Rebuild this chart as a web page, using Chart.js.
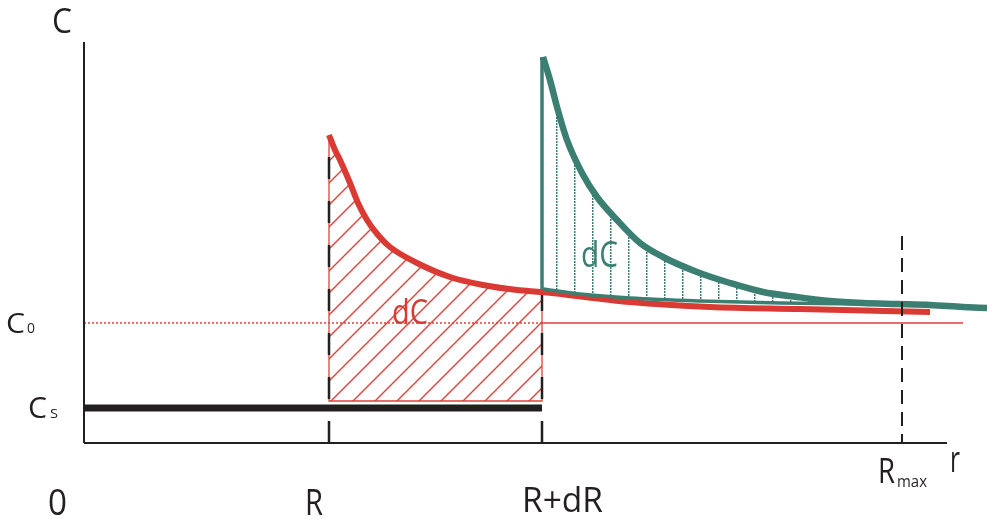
<!DOCTYPE html>
<html>
<head>
<meta charset="utf-8">
<script src="https://cdn.jsdelivr.net/npm/chart.js@4.4.1/dist/chart.umd.min.js"></script>
<style>
  html, body { margin: 0; padding: 0; background: #fff; }
  canvas { display: block; }
</style>
</head>
<body>
<canvas id="diagram" width="990" height="519"></canvas>
<script>
// marks on the r axis and C levels
const rMarks = [0, 245, 458, 818];
const rMarkLabels = ['0', 'R', 'R+dR', 'Rmax'];
const cLevels = [120, 35];
const cLevelLabels = ['C0', 'Cs'];
const rAxisEnd = 863;
const cAxisTop = 401;
const c0End = 879;
const hatchFloor = 42;
const rmaxDashTop = 207;

// profile after R (red)
const redR = [245, 251, 256, 266, 274, 283, 294, 306, 333, 366, 399, 433, 458, 546, 626, 716, 846];
const redC = [308, 293, 283, 260, 240, 223, 208, 196, 180, 166, 158, 153, 151, 141, 136, 134, 131];

// profile after R+dR (teal) and its lower edge
const tealR = [459, 466, 473, 483, 498, 513, 533, 556, 579, 613, 646, 679, 713, 746, 779, 813, 846, 879, 903];
const tealC = [386, 363, 336, 303, 270, 246, 223, 200, 186, 171, 160, 151, 146, 142, 140, 139, 138, 136, 135];
const tealBaseR = [459, 496, 546, 616, 696, 786];
const tealBaseC = [154, 149, 145, 142, 140, 139];

const RED = '#d93a34';
const RED_THIN = '#e0413b';
const TEAL = '#3a7f72';
const INK = '#231f20';
const FONT = '"Open Sans"';

const pts = (xs, ys) => xs.map((x, i) => ({ x, y: ys[i] }));

// hatch patterns
function redHatch() {
  const t = document.createElement('canvas');
  t.width = 22; t.height = 22;
  const g = t.getContext('2d');
  g.strokeStyle = RED_THIN;
  g.lineWidth = 1.4;
  [0, 22, 44].forEach(k => {
    g.beginPath(); g.moveTo(k - 24, 24); g.lineTo(k + 24, -24); g.stroke();
  });
  const p = g.createPattern(t, 'repeat');
  p.setTransform(new DOMMatrix().translate(6, 0));
  return p;
}
function tealHatch() {
  const t = document.createElement('canvas');
  t.width = 18; t.height = 3;
  const g = t.getContext('2d');
  g.fillStyle = TEAL;
  g.fillRect(0, 0, 1.5, 2);
  const p = g.createPattern(t, 'repeat');
  p.setTransform(new DOMMatrix().translate(16, 0));
  return p;
}

const redPts = pts(redR, redC);
const redRegion = redPts.filter(p => p.x <= rMarks[2])
  .concat([{ x: rMarks[2], y: hatchFloor }, { x: rMarks[1], y: hatchFloor }, redPts[0]]);
const tealPts = pts(tealR, tealC);
const tealBase = pts(tealBaseR, tealBaseC);
const tealRegion = tealPts.filter(p => p.x <= tealBaseR[tealBaseR.length - 1])
  .concat(tealBase.slice().reverse());

const line = (data, color, width, order, extra) => Object.assign({
  data, borderColor: color, borderWidth: width, order,
  pointRadius: 0, fill: false, tension: 0, clip: false, borderCapStyle: 'butt'
}, extra || {});

function fitText(ctx, text, left, base, size, width, color) {
  ctx.save();
  ctx.font = size + 'px ' + FONT;
  ctx.fillStyle = color;
  ctx.textAlign = 'left';
  ctx.textBaseline = 'alphabetic';
  const w = ctx.measureText(text).width;
  ctx.translate(left, base);
  ctx.scale(width / w, 1);
  ctx.fillText(text, 0, 0);
  ctx.restore();
}

const labelPlugin = {
  id: 'labels',
  afterDatasetsDraw(chart) {
    const ctx = chart.ctx;
    const px = v => chart.scales.x.getPixelForValue(v);
    const py = v => chart.scales.y.getPixelForValue(v);
    // axis names
    fitText(ctx, 'C', px(0) - 32, py(cAxisTop) - 9, 35, 20, INK);
    fitText(ctx, 'r', px(rAxisEnd) + 3, py(0) + 29, 36, 10, INK);
    // C levels
    fitText(ctx, cLevelLabels[0][0], 6, py(cLevels[0]) + 10, 28, 19, INK);
    fitText(ctx, cLevelLabels[0][1], 27, py(cLevels[0]) + 10, 15, 8, INK);
    fitText(ctx, cLevelLabels[1][0], 28, py(cLevels[1]) + 10, 29, 19, INK);
    fitText(ctx, cLevelLabels[1][1].toUpperCase(), 50, py(cLevels[1]) + 10, 12, 8, INK);
    // r marks
    fitText(ctx, rMarkLabels[0], px(rMarks[0]) - 36, py(0) + 72, 37, 19, INK);
    fitText(ctx, rMarkLabels[1], px(rMarks[1]) - 24, py(0) + 72, 37, 18, INK);
    fitText(ctx, rMarkLabels[2], px(rMarks[2]) - 20, py(0) + 69, 35, 81, INK);
    fitText(ctx, rMarkLabels[3][0], px(rMarks[3]) - 24, py(0) + 40, 35, 17, INK);
    fitText(ctx, rMarkLabels[3].slice(1), px(rMarks[3]) - 5, py(0) + 44, 16, 30, INK);
    // dC
    fitText(ctx, 'dC', 392, py(cLevels[0]) + 1, 34, 36, RED);
    fitText(ctx, 'dC', 581, 267, 36, 37, TEAL);
  }
};

new Chart(document.getElementById('diagram'), {
  type: 'line',
  data: {
    datasets: [
      line(redRegion, RED_THIN, 1.3, 20, { fill: 'shape', backgroundColor: redHatch() }),
      line(tealRegion, 'rgba(0,0,0,0)', 0, 19, { fill: 'shape', backgroundColor: tealHatch() }),
      line([{ x: 0, y: cLevels[0] }, { x: rMarks[2], y: cLevels[0] }], RED_THIN, 1.5, 18, { borderDash: [2, 2] }),
      line([{ x: rMarks[2], y: cLevels[0] }, { x: c0End, y: cLevels[0] }], RED_THIN, 1.4, 18),
      line([{ x: rMarks[1], y: 0 }, { x: rMarks[1], y: redC[0] }], INK, 2.5, 17, { borderDash: [22, 22] }),
      line([{ x: rMarks[2], y: 0 }, { x: rMarks[2], y: redC[redR.indexOf(rMarks[2])] }], INK, 2.5, 17, { borderDash: [22, 22] }),
      line([{ x: 0, y: 0 }, { x: 0, y: cAxisTop }], INK, 2, 16),
      line([{ x: 0, y: 0 }, { x: rAxisEnd, y: 0 }], INK, 2, 16),
      line([{ x: 0, y: cLevels[1] }, { x: rMarks[2], y: cLevels[1] }], INK, 7, 15),
      line(redPts, RED, 6, 14, { cubicInterpolationMode: 'monotone' }),
      line(tealBase, TEAL, 3.5, 13, { cubicInterpolationMode: 'monotone' }),
      line([{ x: tealR[0] - 1, y: tealBaseC[0] }, { x: tealR[0] - 1, y: tealC[0] }], TEAL, 3.5, 12),
      line(tealPts, TEAL, 6.5, 11, { cubicInterpolationMode: 'monotone' }),
      line([{ x: rMarks[3], y: rmaxDashTop }, { x: rMarks[3], y: 0 }], INK, 2, 10, { borderDash: [14, 8] })
    ]
  },
  options: {
    responsive: false,
    devicePixelRatio: 1,
    animation: false,
    events: [],
    layout: { padding: { left: 84, right: 0, top: 42, bottom: 76 } },
    scales: {
      x: { type: 'linear', min: 0, max: 906, display: false },
      y: { type: 'linear', min: 0, max: 401, display: false }
    },
    plugins: { legend: { display: false }, tooltip: { enabled: false } }
  },
  plugins: [labelPlugin]
});
</script>
</body>
</html>
